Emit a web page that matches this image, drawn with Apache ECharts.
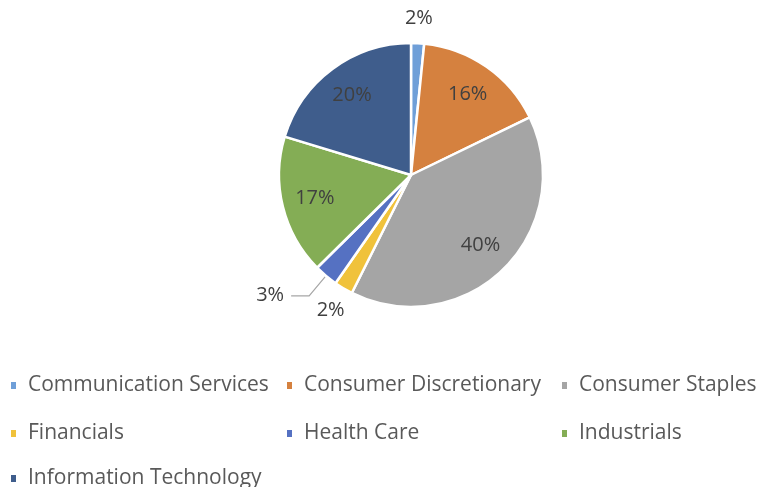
<!DOCTYPE html>
<html>
<head>
<meta charset="utf-8">
<script src="https://cdn.jsdelivr.net/npm/echarts@6/dist/echarts.min.js"></script>
<style>
  html, body { margin: 0; padding: 0; background: #fff; }
  #chart { width: 760px; height: 487px; }
</style>
</head>
<body>
<div id="chart"></div>
<script>
// sectors and their share of the portfolio (%)
const sectors = ['Communication Services', 'Consumer Discretionary', 'Consumer Staples',
  'Financials', 'Health Care', 'Industrials', 'Information Technology'];
const shares = [1.6, 16.2, 39.6, 2.3, 2.9, 17.1, 20.3];
const colors = ['#6f9fd8', '#d5813f', '#a5a5a5', '#f0c23b', '#5571c2', '#84ad55', '#3f5d8c'];
// slices labelled just beyond the rim, and the one with a leader line
const farLabels = ['Communication Services', 'Financials'];
const leaderLabels = ['Health Care'];

const chart = echarts.init(document.getElementById('chart'));

const txt = { color: '#404040', fontSize: 20, fontFamily: 'Open Sans' };
const center = [411, 175];

const mainData = sectors.map((name, i) => ({
  name: name,
  value: shares[i],
  itemStyle: { color: colors[i] },
  label: { show: leaderLabels.includes(name) }
}));

// transparent copies of the pie used only to place the percentage labels
const innerData = sectors.map((name, i) => ({
  name: name,
  value: shares[i],
  label: { show: !farLabels.includes(name) && !leaderLabels.includes(name) }
}));
const rimData = sectors.map((name, i) => ({
  name: name,
  value: shares[i],
  label: { show: farLabels.includes(name) }
}));

// legend laid out as a 3-column grid
const legendCols = [4, 280, 555];
const legendRows = [370, 418, 463];

const legends = sectors.map((name, i) => ({
  left: legendCols[i % 3],
  top: legendRows[Math.floor(i / 3)],
  itemWidth: 7,
  itemHeight: 9,
  itemGap: 0,
  icon: 'rect',
  selectedMode: false,
  textStyle: { color: '#595959', fontSize: 21, fontFamily: 'Open Sans', padding: [0, 0, 0, 6] },
  data: [name]
}));

function overlay(radius, data) {
  return {
    type: 'pie',
    center: center,
    radius: radius,
    startAngle: 90,
    silent: true,
    percentPrecision: 0,
    itemStyle: { color: 'rgba(0,0,0,0)' },
    label: Object.assign({ position: 'inside', formatter: '{d}%' }, txt),
    labelLine: { show: false },
    data: data
  };
}

chart.setOption({
  animation: false,
  legend: legends,
  series: [
    {
      type: 'pie',
      center: center,
      radius: 132,
      startAngle: 90,
      percentPrecision: 0,
      itemStyle: { borderColor: '#fff', borderWidth: 2.5 },
      label: Object.assign({ position: 'outside', formatter: '{d}%', distanceToLabelLine: 7 }, txt),
      labelLine: { length: 26, length2: 18, smooth: false, lineStyle: { color: '#a6a6a6', width: 1.2 } },
      data: mainData
    },
    overlay(192, innerData),
    overlay(308, rimData)
  ]
});
</script>
</body>
</html>
